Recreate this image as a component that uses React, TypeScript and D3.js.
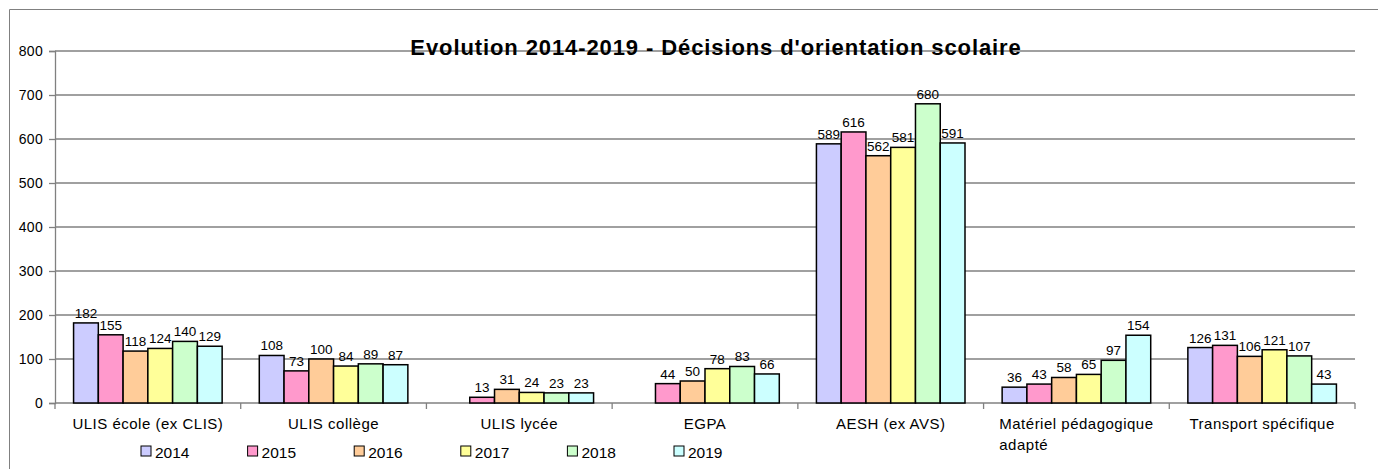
import { useRef, useEffect } from "react";
import * as d3 from "d3";

const categories = [
  "ULIS école (ex CLIS)",
  "ULIS collège",
  "ULIS lycée",
  "EGPA",
  "AESH (ex AVS)",
  "Matériel pédagogique|adapté",
  "Transport spécifique",
];
const years = ["2014", "2015", "2016", "2017", "2018", "2019"];
const colors = ["#CCCCFF", "#FF99CC", "#FFCC99", "#FFFF99", "#CCFFCC", "#CCFFFF"];

// one array per year, in category order (null = no bar)
const v2014 = [182, 108, null, null, 589, 36, 126];
const v2015 = [155, 73, 13, 44, 616, 43, 131];
const v2016 = [118, 100, 31, 50, 562, 58, 106];
const v2017 = [124, 84, 24, 78, 581, 65, 121];
const v2018 = [140, 89, 23, 83, 680, 97, 107];
const v2019 = [129, 87, 23, 66, 591, 154, 43];
const series = [v2014, v2015, v2016, v2017, v2018, v2019];

const yTicks = [0, 100, 200, 300, 400, 500, 600, 700, 800];

export default function App() {
  const svgRef = useRef<SVGSVGElement>(null);

  useEffect(() => {
    if (!svgRef.current) return;
    const svg = d3.select(svgRef.current);
    svg.selectAll("*").remove();

    const width = 1378;
    const height = 469;
    const plot = { left: 55, right: 1355, top: 51, bottom: 403 };
    const font = "'Liberation Sans', Arial, sans-serif";

    svg.attr("width", width).attr("height", height).style("font-family", font);

    // outer frame (cut off at right/bottom)
    svg.append("path")
      .attr("d", `M9.5,${height} V9.5 H${width}`)
      .attr("fill", "none")
      .attr("stroke", "#808080")
      .attr("stroke-width", 1);

    const x = d3.scaleBand().domain(categories).range([plot.left, plot.right]);
    // gap width 150% => 1.5 bar widths split on both sides of each group
    const barW = x.bandwidth() / 7.5;
    const xi = d3.scaleBand().domain(years).range([barW * 0.75, barW * 6.75]);
    const y = d3.scaleLinear().domain([0, 800]).range([plot.bottom, plot.top]);

    // gridlines
    svg.append("g")
      .selectAll("line")
      .data(yTicks.slice(1))
      .join("line")
      .attr("x1", plot.left)
      .attr("x2", plot.right)
      .attr("y1", (d) => y(d))
      .attr("y2", (d) => y(d))
      .attr("stroke", "#808080")
      .attr("stroke-width", 1.3);

    // y axis
    svg.append("g")
      .attr("transform", `translate(${plot.left},0)`)
      .call(d3.axisLeft(y).tickValues(yTicks).tickSize(6).tickPadding(6))
      .call((g) => g.select(".domain").attr("stroke", "#808080").attr("stroke-width", 1.3))
      .call((g) => g.selectAll(".tick line").attr("stroke", "#808080").attr("stroke-width", 1.3))
      .call((g) =>
        g.selectAll(".tick text")
          .attr("font-size", "14px")
          .attr("letter-spacing", "0.3px")
          .attr("fill", "#000")
          .attr("font-family", font)
      );

    // x axis line + ticks between categories
    svg.append("line")
      .attr("x1", plot.left)
      .attr("x2", plot.right)
      .attr("y1", plot.bottom)
      .attr("y2", plot.bottom)
      .attr("stroke", "#808080")
      .attr("stroke-width", 1.3);
    const boundaries = categories.map((c) => x(c) || 0).concat([plot.right]);
    svg.append("g")
      .selectAll("line")
      .data(boundaries)
      .join("line")
      .attr("x1", (d) => d)
      .attr("x2", (d) => d)
      .attr("y1", plot.bottom)
      .attr("y2", plot.bottom + 6)
      .attr("stroke", "#808080")
      .attr("stroke-width", 1.3);

    // bars
    const groups = svg.append("g")
      .selectAll("g")
      .data(categories)
      .join("g")
      .attr("transform", (c) => `translate(${x(c) || 0},0)`);

    groups.each(function (_c, ci) {
      const g = d3.select(this);
      series.forEach((s, si) => {
        const v = s[ci];
        if (v == null) return;
        const bx = xi(years[si]) || 0;
        g.append("rect")
          .attr("x", bx)
          .attr("y", y(v))
          .attr("width", xi.bandwidth())
          .attr("height", plot.bottom - y(v))
          .attr("fill", colors[si])
          .attr("stroke", "#000")
          .attr("stroke-width", 1.5);
        g.append("text")
          .attr("x", bx + xi.bandwidth() / 2)
          .attr("y", y(v) - 5)
          .attr("text-anchor", "middle")
          .attr("font-size", "13.5px")
          .attr("fill", "#000")
          .text(v);
      });
    });

    // category labels
    categories.forEach((c) => {
      const lines = c.split("|");
      const cx = (x(c) || 0) + x.bandwidth() / 2;
      const t = svg.append("text")
        .attr("x", cx)
        .attr("y", 429)
        .attr("text-anchor", "middle")
        .attr("font-size", "15px")
        .attr("letter-spacing", "0.5px")
        .attr("fill", "#000")
        .text(lines[0]);
      if (lines.length > 1) {
        const w = (t.node() as SVGTextElement).getComputedTextLength();
        svg.append("text")
          .attr("x", cx - w / 2)
          .attr("y", 450)
          .attr("font-size", "15px")
          .attr("letter-spacing", "0.5px")
          .attr("fill", "#000")
          .text(lines[1]);
      }
    });

    // title
    svg.append("text")
      .attr("x", 716)
      .attr("y", 55)
      .attr("text-anchor", "middle")
      .attr("font-size", "22px")
      .attr("letter-spacing", "0.9px")
      .attr("font-weight", "bold")
      .attr("fill", "#000")
      .text("Evolution 2014-2019 - Décisions d'orientation scolaire");

    // legend
    const legendX = d3.scalePoint().domain(years).range([141, 674]);
    const legend = svg.append("g")
      .selectAll("g")
      .data(years)
      .join("g")
      .attr("transform", (d) => `translate(${legendX(d)},446)`);
    legend.append("rect")
      .attr("width", 10)
      .attr("height", 10)
      .attr("fill", (_d, i) => colors[i])
      .attr("stroke", "#000")
      .attr("stroke-width", 1);
    legend.append("text")
      .attr("x", 14)
      .attr("y", 11.5)
      .attr("font-size", "15.5px")
      .attr("fill", "#000")
      .text((d) => d);
  }, []);

  return <svg ref={svgRef} style={{ display: "block", position: "absolute", left: 0, top: 0 }} />;
}
